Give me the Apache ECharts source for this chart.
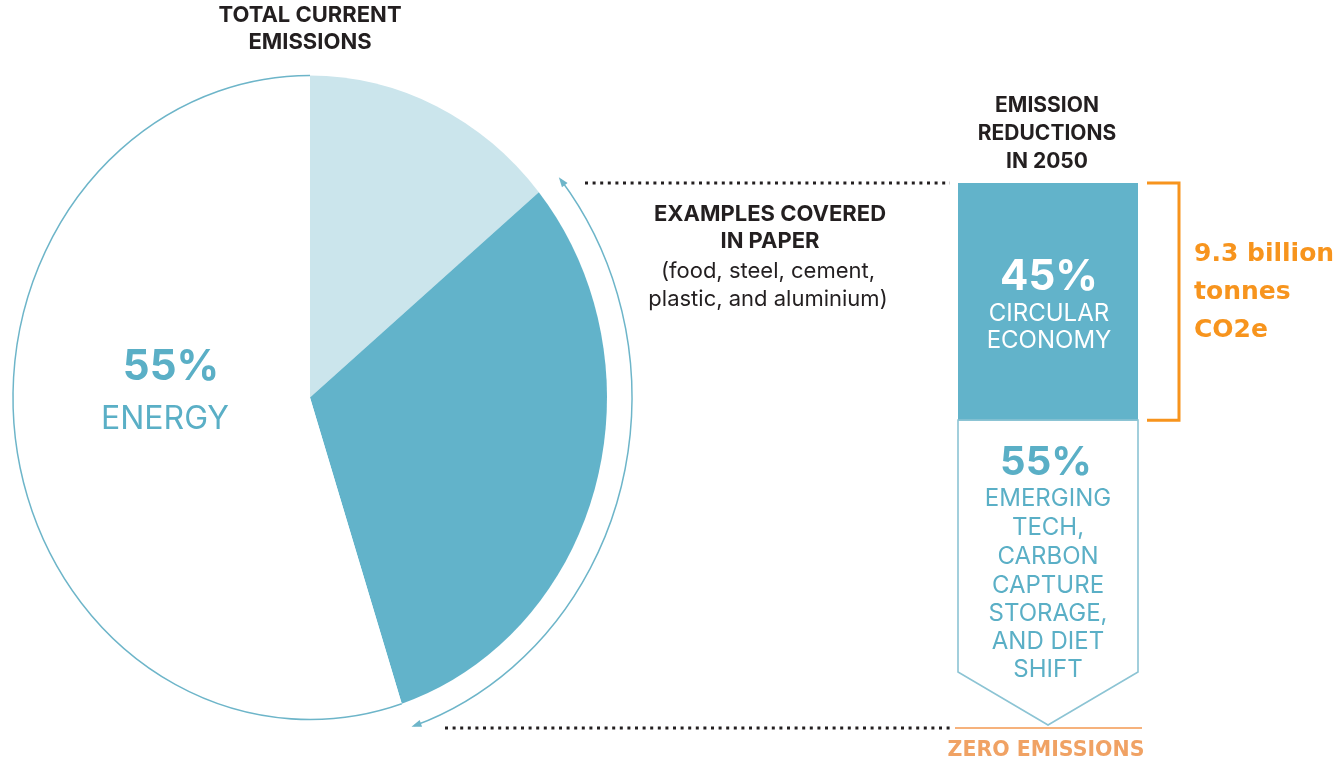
<!DOCTYPE html>
<html>
<head>
<meta charset="utf-8">
<script src="https://cdn.jsdelivr.net/npm/echarts@6/dist/echarts.min.js"></script>
<style>
html, body { margin: 0; background: #fff; }
#chart { width: 1337px; height: 760px; }
</style>
</head>
<body>
<div id="chart"></div>
<script>
// current emissions, clockwise from 12 o'clock
var pieNames = ['Other', 'Examples covered in paper', 'Energy'];
var pieValues = [14, 31, 55];
var pieColors = ['#cbe5ec', '#62b3ca', '#ffffff'];

// emission reductions in 2050 (top to bottom)
var reductionNames = ['Circular economy', 'Emerging tech, carbon capture storage, and diet shift'];
var reductionValues = [45, 55];

var TEAL = '#5aafc6';
var TEAL_LINE = '#6db5c9';
var ORANGE = '#f7941d';
var DARK = '#231f20';
var FONT = 'Inter';

var PIE = { cx: 310, cy: 397.5, rx: 297, ry: 322 };
var ARC = { cx: 310, cy: 397.5, rx: 322, ry: 347, a0: -38.9, a1: 71.1 };

function sum(arr, n) {
  var s = 0;
  for (var k = 0; k < n; k++) s += arr[k];
  return s;
}

// 椭圆饼图 (custom series, 每块扇形按数据计算角度)
function renderPie(params, api) {
  var i = params.dataIndex;
  var total = sum(pieValues, pieValues.length);
  var a0 = -Math.PI / 2 + sum(pieValues, i) / total * Math.PI * 2;
  var a1 = a0 + api.value(0) / total * Math.PI * 2;
  var children = [{
    type: 'sector',
    shape: { cx: 0, cy: 0, r0: 0, r: PIE.ry, startAngle: a0, endAngle: a1, clockwise: true },
    style: { fill: pieColors[i] }
  }];
  if (pieColors[i] === '#ffffff') {
    children.push({
      type: 'arc',
      shape: { cx: 0, cy: 0, r: PIE.ry, startAngle: a0, endAngle: a1, clockwise: true },
      style: { stroke: TEAL_LINE, lineWidth: 1.6, fill: null, strokeNoScale: true }
    });
  }
  return { type: 'group', x: PIE.cx, y: PIE.cy, scaleX: PIE.rx / PIE.ry, children: children };
}

// 2050 减排柱 (上: 矩形, 下: 箭头形)
function renderReduction(params, api) {
  var i = params.dataIndex;
  var start = sum(reductionValues, i);
  var end = start + api.value(1);
  var p0 = api.coord([0, start]);
  var p1 = api.coord([0, end]);
  var w = api.size([1, 0])[0];
  var xl = p0[0] - w / 2, xr = p0[0] + w / 2;
  if (i === 0) {
    return {
      type: 'group',
      children: [{
        type: 'rect',
        shape: { x: xl, y: p0[1], width: w, height: p1[1] - p0[1] },
        style: { fill: '#62b3ca' }
      }, {
        type: 'polyline',
        shape: { points: [[xr + 9, p0[1]], [xr + 41, p0[1]], [xr + 41, p1[1]], [xr + 9, p1[1]]] },
        style: { stroke: ORANGE, lineWidth: 3, fill: null }
      }]
    };
  }
  return {
    type: 'polygon',
    shape: { points: [[xl, p0[1]], [xr, p0[1]], [xr, p1[1] - 38], [p0[0], p1[1] + 15], [xl, p1[1] - 38]] },
    style: { fill: '#ffffff', stroke: '#8cc4d4', lineWidth: 1.6 }
  };
}

function arrowHead(deg, dir) {
  var a = deg * Math.PI / 180;
  var px = ARC.cx + ARC.rx * Math.cos(a), py = ARC.cy + ARC.ry * Math.sin(a);
  var tx = -ARC.rx * Math.sin(a) * dir, ty = ARC.ry * Math.cos(a) * dir;
  var len = Math.sqrt(tx * tx + ty * ty);
  tx /= len; ty /= len;
  var nx = -ty, ny = tx;
  return {
    type: 'polygon', silent: true, z: 10,
    shape: { points: [[px + tx * 3, py + ty * 3], [px - tx * 7 + nx * 3.5, py - ty * 7 + ny * 3.5], [px - tx * 7 - nx * 3.5, py - ty * 7 - ny * 3.5]] },
    style: { fill: TEAL_LINE }
  };
}

function txt(text, x, y, size, weight, color, family, align) {
  return {
    type: 'text', silent: true, x: x, y: y, z: 20,
    style: {
      text: text, fontSize: size, fontWeight: weight, fontFamily: family || FONT,
      fill: color, textAlign: align || 'center', textVerticalAlign: 'middle'
    }
  };
}

function dotted(x1, x2, y) {
  return {
    type: 'line', silent: true, z: 10,
    shape: { x1: x1, y1: y, x2: x2, y2: y },
    style: { stroke: DARK, lineWidth: 3, lineDash: [3, 4.6] }
  };
}

var chart = echarts.init(document.getElementById('chart'));

var option = {
  backgroundColor: '#ffffff',
  animation: false,
  grid: { left: 958, width: 180, top: 183, height: 527 },
  xAxis: { type: 'category', data: ['2050'], show: false },
  yAxis: { type: 'value', min: 0, max: 100, inverse: true, show: false },
  series: [{
    type: 'custom',
    name: 'Total current emissions',
    coordinateSystem: 'none',
    renderItem: renderPie,
    data: pieValues.map(function (v, i) { return { name: pieNames[i], value: [v] }; }),
    silent: true
  }, {
    type: 'custom',
    name: 'Emission reductions in 2050',
    coordinateSystem: 'cartesian2d',
    renderItem: renderReduction,
    encode: { x: 0, y: 1 },
    data: reductionValues.map(function (v, i) { return { name: reductionNames[i], value: [0, v] }; }),
    silent: true
  }],
  graphic: [
    // 外侧弧形箭头
    {
      type: 'arc', silent: true, z: 10, x: ARC.cx, y: ARC.cy, scaleX: ARC.rx / ARC.ry,
      shape: { cx: 0, cy: 0, r: ARC.ry, startAngle: ARC.a0 * Math.PI / 180, endAngle: ARC.a1 * Math.PI / 180, clockwise: true },
      style: { stroke: TEAL_LINE, lineWidth: 1.6, fill: null, strokeNoScale: true }
    },
    arrowHead(ARC.a0, -1),
    arrowHead(ARC.a1, 1),
    dotted(585, 950, 183),
    dotted(445, 950, 728),
    {
      type: 'line', silent: true, z: 10,
      shape: { x1: 955, y1: 728, x2: 1142, y2: 728 },
      style: { stroke: '#f6b27c', lineWidth: 2 }
    },

    txt('TOTAL CURRENT', 310, 15, 22, 'bold', DARK),
    txt('EMISSIONS', 310, 42, 22, 'bold', DARK),
    txt('55%', 171, 367, 42, 'bold', TEAL),
    txt('ENERGY', 165, 419, 32, 'normal', TEAL),

    txt('EXAMPLES COVERED', 770, 214, 22, 'bold', DARK),
    txt('IN PAPER', 770, 241, 22, 'bold', DARK),
    txt('(food, steel, cement,', 768, 271, 22, 'normal', DARK),
    txt('plastic, and aluminium)', 768, 299, 22, 'normal', DARK),

    txt('EMISSION', 1047, 106, 21, 'bold', DARK),
    txt('REDUCTIONS', 1047, 134, 21, 'bold', DARK),
    txt('IN 2050', 1047, 162, 21, 'bold', DARK),

    txt('45%', 1049, 277, 42, 'bold', '#ffffff'),
    txt('CIRCULAR', 1049, 314, 24, 'normal', '#ffffff'),
    txt('ECONOMY', 1049, 341, 24, 'normal', '#ffffff'),

    txt('55%', 1046, 463, 40, 'bold', TEAL),
    txt('EMERGING', 1048, 499, 24, 'normal', TEAL),
    txt('TECH,', 1048, 528, 24, 'normal', TEAL),
    txt('CARBON', 1048, 557, 24, 'normal', TEAL),
    txt('CAPTURE', 1048, 586, 24, 'normal', TEAL),
    txt('STORAGE,', 1048, 614, 24, 'normal', TEAL),
    txt('AND DIET', 1048, 642, 24, 'normal', TEAL),
    txt('SHIFT', 1048, 670, 24, 'normal', TEAL),

    txt('ZERO EMISSIONS', 1046, 751, 20.5, 'bold', '#f0a264', 'DejaVu Sans'),

    txt('9.3 billion', 1194, 254, 25, 'bold', ORANGE, 'DejaVu Sans', 'left'),
    txt('tonnes', 1194, 292, 25, 'bold', ORANGE, 'DejaVu Sans', 'left'),
    txt('CO2e', 1194, 330, 25, 'bold', ORANGE, 'DejaVu Sans', 'left')
  ]
};

chart.setOption(option);
window.addEventListener('resize', function () {
  chart.resize();
});
</script>
</body>
</html>
